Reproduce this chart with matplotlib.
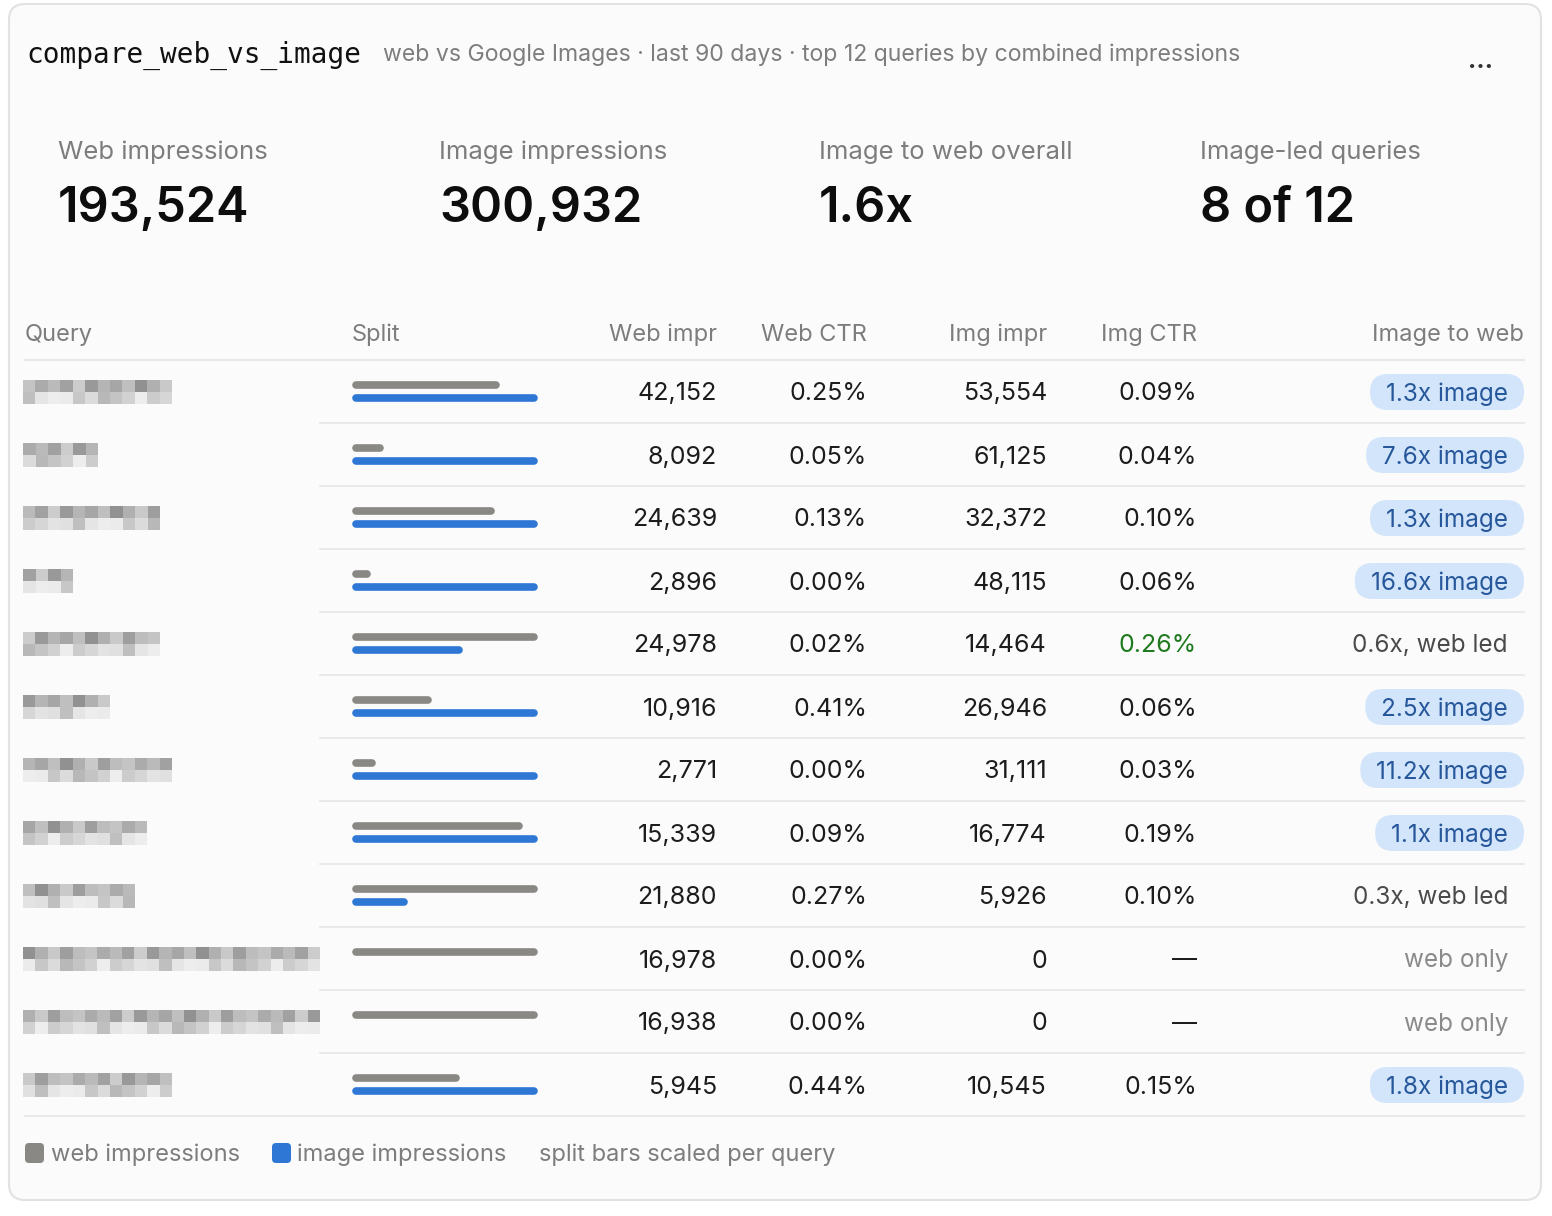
import matplotlib.pyplot as plt
from matplotlib.patches import FancyBboxPatch, Rectangle

# data
web_impr = [42152, 8092, 24639, 2896, 24978, 10916, 2771, 15339, 21880, 16978, 16938, 5945]
web_ctr = [0.25, 0.05, 0.13, 0.00, 0.02, 0.41, 0.00, 0.09, 0.27, 0.00, 0.00, 0.44]
img_impr = [53554, 61125, 32372, 48115, 14464, 26946, 31111, 16774, 5926, 0, 0, 10545]
img_ctr = [0.09, 0.04, 0.10, 0.06, 0.26, 0.06, 0.03, 0.19, 0.10, None, None, 0.15]
# redacted query names: only the width of the blurred label is visible
query_width = [149, 75, 137, 50, 137, 87, 149, 124, 112, 297, 297, 149]

headers = ["Query", "Split", "Web impr", "Web CTR", "Img impr", "Img CTR", "Image to web"]
kpi_labels = ["Web impressions", "Image impressions", "Image to web overall", "Image-led queries"]

FONT = "Inter"
WEB_C = "#8a8884"
IMG_C = "#2e77d5"
GRAY = "#7d7d7d"
INK = "#1c1c1c"
NUM_FS = 18
DY = 2  # small nudge so centred text sits like the reference

fig = plt.figure(figsize=(15.52, 12.16), dpi=100)
fig.patch.set_facecolor("white")
ax = fig.add_axes([0, 0, 1, 1])
ax.set_xlim(0, 1552)
ax.set_ylim(1216, 0)
ax.axis("off")

# card
ax.add_patch(FancyBboxPatch((9, 4), 1532, 1196, boxstyle="round,pad=0,rounding_size=16",
                            fc="#fbfbfb", ec="#e2e2e2", lw=1.5))

# title
ax.text(26, 53 + DY, "compare_web_vs_image", family="DejaVu Sans Mono", fontsize=20, color="#111111", va="center")
ax.text(383, 53 + DY, "web vs Google Images · last 90 days · top 12 queries by combined impressions",
        family=FONT, fontsize=16.6, color=GRAY, va="center")
ax.text(1481, 61, "...", family=FONT, fontsize=18, color="#333333", ha="center", va="center", weight="bold")

# KPIs
tot_web = sum(web_impr)
tot_img = sum(img_impr)
led = sum(1 for w, i in zip(web_impr, img_impr) if i > w)
kpi_values = [f"{tot_web:,}", f"{tot_img:,}", f"{tot_img / tot_web:.1f}x", f"{led} of {len(web_impr)}"]
kpi_x = [58, 439, 819, 1200]
for x, lab, val in zip(kpi_x, kpi_labels, kpi_values):
    ax.text(x, 150 + DY, lab, family=FONT, fontsize=18.5, color=GRAY, va="center")
    ax.text(x, 205 + 4, val, family=FONT, fontsize=35, color="#0d0d0d", va="center", weight="semibold")

# table header
col_x = [25, 352, 717, 867, 1047, 1197, 1524]
col_ha = ["left", "left", "right", "right", "right", "right", "right"]
for x, h, ha in zip(col_x, headers, col_ha):
    ax.text(x, 333 + DY, h, family=FONT, fontsize=17, color=GRAY, ha=ha, va="center")
ax.plot([25, 1524], [360, 360], color="#e4e4e4", lw=1.2)

renderer = fig.canvas.get_renderer()
shades = [0.72, 0.62, 0.68, 0.58, 0.75, 0.55, 0.66, 0.6, 0.7, 0.52, 0.64, 0.74, 0.57, 0.69]
row_h = 63
bar_l, bar_r = 356, 534
for r in range(len(web_impr)):
    yc = 392 + r * row_h
    yt = yc + DY
    w, i = web_impr[r], img_impr[r]

    # blurred query label
    nblk = max(1, round(query_width[r] / 12.5))
    bw = query_width[r] / nblk
    for k in range(nblk):
        s1 = shades[(k + r) % len(shades)]
        s2 = shades[(k * 3 + r + 5) % len(shades)]
        ax.add_patch(Rectangle((23 + k * bw, yc - 12), bw, 12, fc=str(min(s1 + 0.05, 0.93)), ec="none"))
        ax.add_patch(Rectangle((23 + k * bw, yc), bw, 12, fc=str(min(s2 + 0.2, 0.93)), ec="none"))

    # split bars, scaled per query
    m = max(w, i)
    ax.plot([bar_l, bar_l + (bar_r - bar_l) * w / m], [yc - 7, yc - 7], color=WEB_C, lw=5.5,
            solid_capstyle="round")
    if i > 0:
        ax.plot([bar_l, bar_l + (bar_r - bar_l) * i / m], [yc + 6, yc + 6], color=IMG_C, lw=5.5,
                solid_capstyle="round")

    ax.text(717, yt, f"{w:,}", family=FONT, fontsize=NUM_FS, color=INK, ha="right", va="center")
    ax.text(867, yt, f"{web_ctr[r]:.2f}%", family=FONT, fontsize=NUM_FS, color=INK, ha="right", va="center")
    ax.text(1047, yt, f"{i:,}", family=FONT, fontsize=NUM_FS, color=INK, ha="right", va="center")
    if img_ctr[r] is None:
        ax.text(1197, yt, "—", family=FONT, fontsize=NUM_FS, color=INK, ha="right", va="center")
    else:
        good = img_ctr[r] > web_ctr[r] and i < w
        ax.text(1197, yt, f"{img_ctr[r]:.2f}%", family=FONT, fontsize=NUM_FS,
                color="#1f7a1f" if good else INK, ha="right", va="center")

    if i == 0:
        ax.text(1508, yt, "web only", family=FONT, fontsize=17.5, color="#8a8a8a", ha="right", va="center")
    elif i > w:
        t = ax.text(1508, yt, f"{i / w:.1f}x image", family=FONT, fontsize=17.5, color="#26579b",
                    ha="right", va="center", zorder=3)
        tw = t.get_window_extent(renderer).width
        ax.add_patch(FancyBboxPatch((1508 - tw - 16, yc - 18), tw + 32, 36,
                                    boxstyle="round,pad=0,rounding_size=18", fc="#d3e5fa", ec="none", zorder=2))
    else:
        ax.text(1508, yt, f"{i / w:.1f}x, web led", family=FONT, fontsize=17.5, color="#4a4a4a",
                ha="right", va="center")

    y_line = yc + 31
    x0 = 25 if r == len(web_impr) - 1 else 320
    ax.plot([x0, 1524], [y_line, y_line], color="#e6e6e6", lw=1.2)

# legend
ax.add_patch(FancyBboxPatch((25, 1143), 19, 20, boxstyle="round,pad=0,rounding_size=4", fc=WEB_C, ec="none"))
ax.text(51, 1153 + DY, "web impressions", family=FONT, fontsize=17, color=GRAY, va="center")
ax.add_patch(FancyBboxPatch((272, 1143), 19, 20, boxstyle="round,pad=0,rounding_size=4", fc=IMG_C, ec="none"))
ax.text(297, 1153 + DY, "image impressions", family=FONT, fontsize=17, color=GRAY, va="center")
ax.text(539, 1153 + DY, "split bars scaled per query", family=FONT, fontsize=17, color=GRAY, va="center")

fig.savefig("out.png", dpi=100, facecolor="white")
